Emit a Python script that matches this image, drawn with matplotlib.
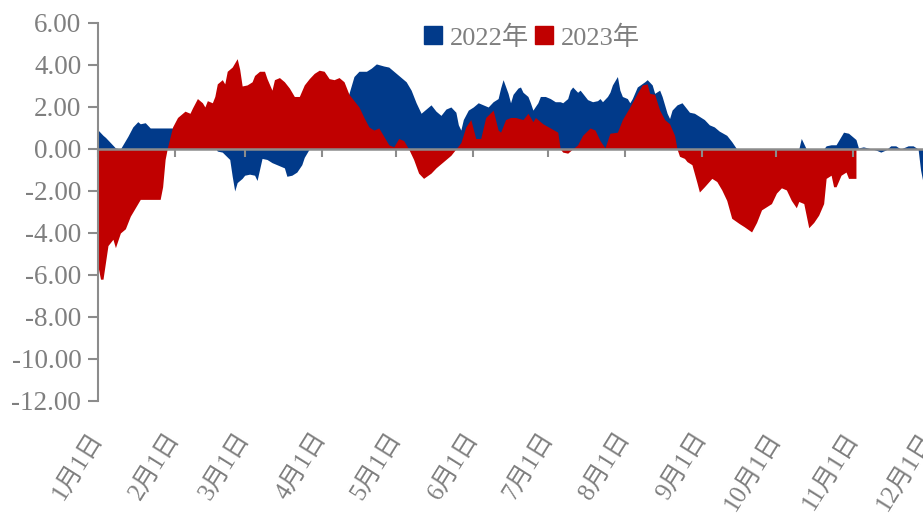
import numpy as np
import pandas as pd
import matplotlib

matplotlib.use("Agg")
import matplotlib.pyplot as plt
from matplotlib.patches import Patch
from matplotlib.ticker import FormatStrFormatter

plt.rcParams["font.family"] = ["Liberation Serif", "Noto Sans CJK SC"]
plt.rcParams["axes.unicode_minus"] = False

# 日数 (1月1日=0) と値
days_2022 = [
    0, 2, 3, 5, 7, 9, 10, 12, 14, 16, 17, 19, 21, 23, 25, 27, 30, 33, 38, 43,
    47, 48, 50, 53, 54, 55, 56, 58, 59, 61, 63, 64, 66, 68, 70, 72, 75, 76, 78,
    80, 82, 83, 85, 88, 92, 96, 99, 101, 103, 105, 108, 110, 112, 115, 117, 119,
    121, 124, 126, 128, 130, 132, 134, 136, 138, 140, 142, 144, 145, 146, 147,
    149, 151, 153, 155, 157, 159, 161, 162, 163, 165, 166, 167, 169, 170, 171,
    173, 174, 175, 177, 178, 180, 182, 184, 186, 187, 189, 190, 191, 193, 194,
    195, 197, 199, 201, 202, 203, 205, 206, 207, 209, 210, 211, 213, 214, 215,
    217, 220, 221, 223, 224, 226, 227, 229, 230, 231, 233, 234, 235, 237, 238,
    240, 242, 244, 246, 248, 250, 253, 255, 257, 282, 283, 285, 292, 293, 295,
    297, 299, 300, 302, 303, 305, 306, 308, 313, 315, 317, 319, 321, 323, 326,
    328, 330, 331, 332, 335, 340,
]
vals_2022 = [
    0.9, 0.65, 0.55, 0.3, 0.05, 0.0, 0.2, 0.6, 1.05, 1.3, 1.2, 1.25, 1.0, 1.0,
    1.0, 1.0, 1.0, 0.9, 0.7, 0.4, 0.1, -0.1, -0.15, -0.5, -1.3, -2.0, -1.6, -1.4,
    -1.25, -1.2, -1.25, -1.5, -0.45, -0.5, -0.65, -0.75, -0.9, -1.3, -1.25, -1.1,
    -0.75, -0.4, 0.0, 0.5, 1.0, 1.5, 2.0, 2.65, 3.45, 3.7, 3.7, 3.85, 4.05, 3.95,
    3.9, 3.7, 3.5, 3.2, 2.8, 2.2, 1.7, 1.9, 2.1, 1.8, 1.6, 1.9, 2.0, 1.75, 1.15,
    0.9, 1.4, 1.85, 2.0, 2.2, 2.1, 2.0, 2.25, 2.4, 2.9, 3.3, 2.65, 2.2, 2.6, 2.9,
    2.95, 2.7, 2.5, 2.2, 1.85, 2.2, 2.5, 2.5, 2.4, 2.25, 2.25, 2.2, 2.4, 2.8,
    2.95, 2.7, 2.8, 2.65, 2.35, 2.25, 2.3, 2.4, 2.25, 2.5, 2.7, 3.05, 3.45, 2.8,
    2.5, 2.4, 2.2, 2.4, 2.95, 3.2, 3.3, 3.05, 2.65, 2.8, 2.5, 1.7, 1.45, 1.85,
    2.1, 2.15, 2.2, 1.9, 1.75, 1.7, 1.55, 1.4, 1.15, 1.05, 0.85, 0.65, 0.35, 0.0,
    0.0, 0.5, 0.0, 0.0, 0.15, 0.2, 0.2, 0.6, 0.8, 0.75, 0.65, 0.45, 0.05, 0.1,
    -0.05, -0.15, -0.05, 0.15, 0.15, 0.0, 0.15, 0.15, 0.0, -1.0, -1.6, -1.8,
    -1.8,
]

days_2023 = [
    0, 1, 2, 4, 6, 7, 9, 11, 13, 15, 17, 25, 26, 27, 28, 30, 32, 35, 37, 38, 40,
    42, 43, 44, 46, 47, 48, 50, 51, 52, 54, 56, 57, 58, 60, 62, 63, 65, 67, 68,
    70, 71, 73, 75, 77, 79, 81, 83, 85, 87, 89, 91, 93, 95, 97, 99, 101, 103,
    105, 107, 109, 111, 113, 115, 117, 119, 121, 123, 125, 127, 129, 131, 134,
    136, 139, 142, 144, 146, 148, 150, 152, 154, 156, 159, 161, 162, 164, 166,
    168, 171, 173, 175, 176, 179, 182, 185, 186, 187, 189, 191, 193, 195, 198,
    200, 202, 204, 206, 209, 211, 214, 217, 219, 221, 222, 224, 226, 228, 230,
    232, 233, 234, 236, 237, 239, 241, 242, 244, 247, 249, 251, 253, 255, 258,
    260, 263, 265, 267, 269, 271, 273, 275, 277, 279, 281, 282, 284, 286, 288,
    290, 292, 293, 295, 296, 297, 299, 301, 302, 305,
]
vals_2023 = [
    -5.6, -6.2, -6.2, -4.6, -4.3, -4.7, -4.0, -3.8, -3.2, -2.8, -2.4, -2.4, -1.8,
    -0.5, 0.1, 1.05, 1.5, 1.8, 1.7, 1.95, 2.4, 2.2, 2.0, 2.3, 2.2, 2.5, 3.1, 3.3,
    3.1, 3.7, 3.9, 4.3, 3.8, 3.0, 3.05, 3.2, 3.5, 3.7, 3.7, 3.35, 2.8, 3.3, 3.4,
    3.2, 2.9, 2.5, 2.5, 3.05, 3.35, 3.6, 3.75, 3.7, 3.35, 3.3, 3.4, 3.2, 2.6, 2.3,
    2.0, 1.5, 1.05, 0.9, 1.0, 0.6, 0.2, 0.1, 0.5, 0.4, 0.0, -0.5, -1.15, -1.4,
    -1.15, -0.9, -0.6, -0.3, 0.0, 0.3, 1.05, 1.4, 0.5, 0.5, 1.5, 1.85, 0.9, 0.8,
    1.4, 1.5, 1.5, 1.4, 1.7, 1.3, 1.5, 1.2, 1.0, 0.8, 0.0, -0.15, -0.2, 0.0, 0.2,
    0.65, 1.0, 0.9, 0.4, 0.05, 0.75, 0.8, 1.4, 2.0, 2.65, 3.05, 3.1, 2.65, 2.6,
    1.85, 1.4, 1.2, 0.65, 0.0, -0.35, -0.45, -0.6, -0.75, -1.6, -2.05, -1.8,
    -1.4, -1.55, -1.95, -2.45, -3.3, -3.55, -3.7, -3.95, -3.5, -2.9, -2.75, -2.6,
    -2.1, -1.85, -1.95, -2.45, -2.8, -2.5, -2.6, -3.75, -3.5, -3.15, -2.6, -1.4,
    -1.25, -1.8, -1.8, -1.25, -1.1, -1.4, -1.4,
]

month_labels = [f"{m}月1日" for m in range(1, 13)]
month_days = list(pd.date_range("2023-01-01", periods=12, freq="MS").dayofyear - 1)

BLUE = "#013a8a"
RED = "#c00000"
GRAY = "#8c8c8c"
TEXT = "#7f7f7f"

fig = plt.figure(figsize=(9.23, 5.15), dpi=100)
ax = fig.add_axes([0.1062, 0.2214, 0.9827, 0.7340])

ax.fill_between(days_2022, vals_2022, 0, color=BLUE, lw=0)
ax.fill_between(days_2023, vals_2023, 0, color=RED, lw=0)

ax.set_xlim(0, 365)
ax.set_ylim(-12, 6)
ax.set_yticks(np.arange(-12, 7, 2))
ax.yaxis.set_major_formatter(FormatStrFormatter("%.2f"))

for s in ["top", "right"]:
    ax.spines[s].set_visible(False)
ax.spines["left"].set_color(GRAY)
ax.spines["left"].set_linewidth(1.5)
ax.spines["bottom"].set_position(("data", 0))
ax.spines["bottom"].set_color(GRAY)
ax.spines["bottom"].set_linewidth(1.8)
ax.spines["bottom"].set_zorder(3)

ax.set_xticks(month_days)
ax.tick_params(axis="x", direction="out", length=6, width=1.5, color=GRAY,
               labelbottom=False)
ax.tick_params(axis="y", direction="out", length=7, width=1.5, color=GRAY,
               labelsize=19.5, labelcolor=TEXT, pad=5)

# 目盛りラベルは下端に
sec = ax.secondary_xaxis("bottom")
sec.spines["bottom"].set_visible(False)
sec.set_xticks(month_days, month_labels)
sec.tick_params(axis="x", length=0, pad=24, labelsize=18, labelcolor=TEXT)
for lbl in sec.get_xticklabels():
    lbl.set_rotation(58)
    lbl.set_ha("right")
    lbl.set_rotation_mode("anchor")
    lbl.set_va("center")
    lbl.set_x(lbl.get_position()[0])

handles = [Patch(color=BLUE, label="2022年"), Patch(color=RED, label="2023年")]
fig.legend(handles=handles, loc="upper left", bbox_to_anchor=(0.459, 0.951),
           ncol=2, frameon=False, fontsize=19, labelcolor=TEXT,
           handlelength=0.68, handleheight=0.68, handletextpad=0.3,
           columnspacing=0.25, borderpad=0, borderaxespad=0)

fig.savefig("out.png", dpi=100)
